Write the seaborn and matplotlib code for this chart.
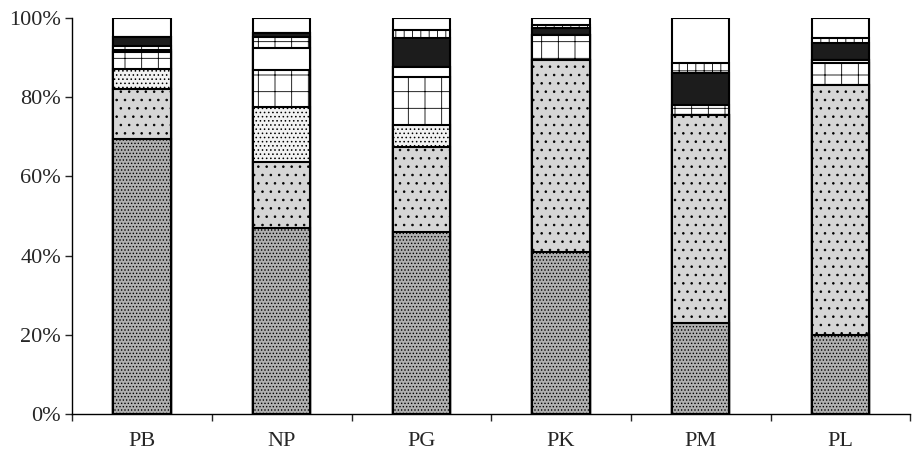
import pandas as pd
import matplotlib
matplotlib.use("Agg")
import matplotlib.pyplot as plt
import seaborn as sns


sites = ["PB", "NP", "PG", "PK", "PM", "PL"]

# share of each layer in %, from the bottom of the bar to the top
gray_dense = [69.5, 46.9, 46.0, 41.0, 23.0, 20.0]
speckled = [12.5, 16.8, 21.5, 48.4, 52.5, 63.1]
light_dots = [5.0, 13.9, 5.5, 0.0, 0.0, 0.0]
big_brick = [4.5, 9.3, 12.2, 6.3, 0.0, 5.5]
plain = [0.5, 5.5, 2.5, 0.0, 0.0, 0.8]
brick = [1.0, 2.9, 0.0, 0.0, 2.5, 0.0]
dark = [2.3, 0.8, 7.2, 1.7, 8.0, 4.2]
small_brick = [0.0, 0.0, 2.1, 0.8, 2.6, 1.3]
white_top = [4.7, 3.9, 3.0, 1.8, 11.4, 5.1]

layer_names = ["gray_dense", "speckled", "light_dots", "big_brick", "plain",
               "brick", "dark", "small_brick", "white_top"]

df = pd.DataFrame({
    "site": sites,
    "gray_dense": gray_dense,
    "speckled": speckled,
    "light_dots": light_dots,
    "big_brick": big_brick,
    "plain": plain,
    "brick": brick,
    "dark": dark,
    "small_brick": small_brick,
    "white_top": white_top,
})
cum = df[layer_names].cumsum(axis=1)

styles = {
    "gray_dense": ("#b0b0b0", "....."),
    "speckled": ("#d6d6d6", ".."),
    "light_dots": ("#f2f2f2", "...."),
    "big_brick": ("white", "+"),
    "plain": ("white", ""),
    "brick": ("white", "+"),
    "dark": ("#1c1c1c", ""),
    "small_brick": ("white", "++"),
    "white_top": ("white", ""),
}

sns.set_style("ticks")
plt.rcParams["font.family"] = ["Liberation Serif", "DejaVu Serif"]
plt.rcParams["hatch.linewidth"] = 0.6

fig = plt.figure(figsize=(9.14, 4.61), dpi=100)
ax = fig.add_axes([0.079, 0.102, 0.917, 0.859])

# draw cumulative bars from the top layer down so each lower one covers the rest
for name in reversed(layer_names):
    color, hatch = styles[name]
    sns.barplot(x=df["site"], y=cum[name], order=sites, color=color,
                hatch=hatch, edgecolor="black", linewidth=1.5, width=0.41,
                saturation=1, ax=ax)

ax.set_xlim(-0.5, 5.5)
ax.set_ylim(0, 100)
ax.set_yticks(range(0, 101, 20))
ax.set_yticklabels([f"{v}%" for v in range(0, 101, 20)], fontsize=16)
ax.set_xticks(range(len(sites)))
ax.set_xticklabels(sites, fontsize=16)
ax.set_xticks([i - 0.5 for i in range(len(sites) + 1)], minor=True)
ax.tick_params(axis="x", which="major", length=0, pad=13)
ax.tick_params(axis="x", which="minor", length=5, width=1, direction="out")
ax.tick_params(axis="y", length=5, width=1, direction="out", pad=3)
ax.set_xlabel("")
ax.set_ylabel("")
sns.despine(ax=ax)
for side in ["left", "bottom"]:
    ax.spines[side].set_color("black")
    ax.spines[side].set_linewidth(1.0)

fig.savefig("out.png", dpi=100)
